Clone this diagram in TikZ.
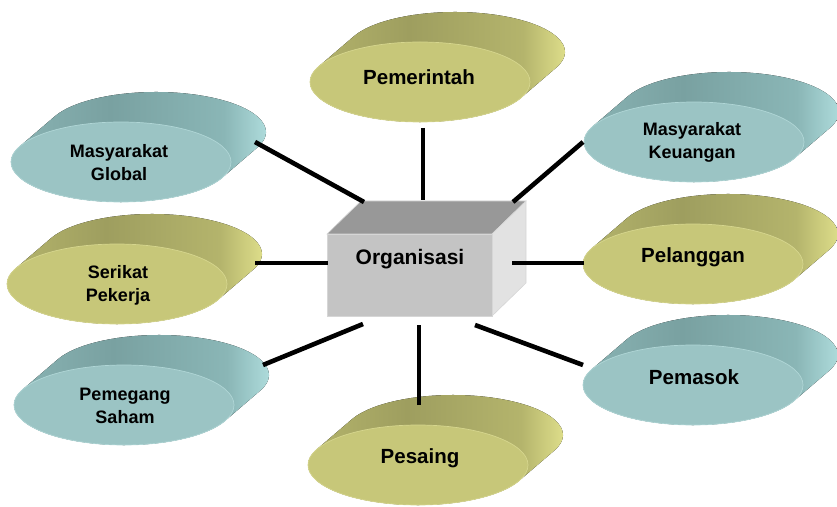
\documentclass[tikz,border=0pt]{standalone}
\usepackage{fontspec}
\setmainfont{Liberation Sans}
\usetikzlibrary{shapes.geometric}

% palettes: olive and teal discs
\definecolor{olFront}{RGB}{199,199,121}
\definecolor{olRim}{RGB}{214,214,142}
\definecolor{olA}{RGB}{184,184,110}
\definecolor{olB}{RGB}{158,158,95}
\definecolor{olC}{RGB}{180,180,108}
\definecolor{olD}{RGB}{236,236,148}
\definecolor{tlFront}{RGB}{155,196,196}
\definecolor{tlRim}{RGB}{176,214,214}
\definecolor{tlA}{RGB}{140,182,182}
\definecolor{tlB}{RGB}{121,161,161}
\definecolor{tlC}{RGB}{138,182,182}
\definecolor{tlD}{RGB}{186,232,232}
\definecolor{boxFront}{RGB}{196,196,196}
\definecolor{boxTop}{RGB}{152,152,152}
\definecolor{boxSide}{RGB}{226,226,226}
\definecolor{boxEdge}{RGB}{214,214,214}

% side shadings: TikZ fits the 25bp--75bp band to the path
\pgfdeclarehorizontalshading{olside}{100bp}{color(0bp)=(olA); color(25bp)=(olA); color(45bp)=(olB); color(65bp)=(olC); color(75bp)=(olD); color(100bp)=(olD)}
\pgfdeclarehorizontalshading{tlside}{100bp}{color(0bp)=(tlA); color(25bp)=(tlA); color(45bp)=(tlB); color(65bp)=(tlC); color(75bp)=(tlD); color(100bp)=(tlD)}

\tikzset{
  link/.style={line width=4.6pt, black},
  bigtext/.style={font=\bfseries\fontsize{20.5}{24}\selectfont, text=black, inner sep=0pt},
  smalltext/.style={font=\bfseries\fontsize{18}{23}\selectfont, text=black, align=center, inner sep=0pt},
}

% #1 node name, #2 x, #3 y (measured from the top), #4 palette (ol/tl)
\newcommand{\extrudeddisc}[4]{%
  \begin{scope}[shift={(#2,{506-#3})}]
    \fill[shading=#4side]
      (157:110 and 40) -- ++(35,30)
      arc[start angle=157, end angle=-23, x radius=110, y radius=40]
      -- ++(-35,-30)
      arc[start angle=-23, end angle=-203, x radius=110, y radius=40]
      -- cycle;
    \node[ellipse, draw=#4Rim, fill=#4Front, line width=0.7pt,
          minimum width=220pt, minimum height=80pt, inner sep=0pt] (#1) at (0,0) {};
  \end{scope}}

\begin{document}
\begin{tikzpicture}[x=1pt,y=1pt]
  \useasboundingbox (0,0) rectangle (837,506);

  % discs
  \extrudeddisc{gov}{420}{82}{ol}
  \extrudeddisc{glob}{121}{162}{tl}
  \extrudeddisc{fin}{694}{142}{tl}
  \extrudeddisc{union}{117}{284}{ol}
  \extrudeddisc{cust}{693}{264}{ol}
  \extrudeddisc{share}{124}{405}{tl}
  \extrudeddisc{supp}{693}{385}{tl}
  \extrudeddisc{comp}{418}{465}{ol}

  \node[bigtext]   (gov-t)   at (419,{506-77})  {Pemerintah};
  \node[smalltext] (glob-t)  at (119,{506-163}) {Masyarakat\\Global};
  \node[smalltext] (fin-t)   at (692,{506-142}) {Masyarakat\\Keuangan};
  \node[smalltext] (union-t) at (118,{506-285}) {Serikat\\Pekerja};
  \node[bigtext]   (cust-t)  at (693,{506-257}) {Pelanggan};
  \node[smalltext] (share-t) at (125,{506-406}) {Pemegang\\Saham};
  \node[bigtext]   (supp-t)  at (694,{506-377}) {Pemasok};
  \node[bigtext]   (comp-t)  at (420,{506-458}) {Pesaing};

  % central box
  \fill[boxTop, draw=boxEdge, line width=0.6pt]
    (327,{506-234}) -- (361,{506-201}) -- (526,{506-201}) -- (492,{506-234}) -- cycle;
  \fill[boxSide, draw=boxEdge, line width=0.6pt]
    (492,{506-234}) -- (526,{506-201}) -- (526,{506-283}) -- (492,{506-316}) -- cycle;
  \node[rectangle, fill=boxFront, draw=boxEdge, line width=0.6pt,
        minimum width=165pt, minimum height=82pt, inner sep=0pt, anchor=north west]
        (org) at (327,{506-234}) {};
  \node[bigtext, font=\bfseries\fontsize{21}{24}\selectfont] (org-t) at (410,{506-259}) {Organisasi};

  % connector ends
  \coordinate (glob-e)  at (255,{506-142});
  \coordinate (org-nw)  at (364,{506-202});
  \coordinate (gov-e)   at (423,{506-128});
  \coordinate (org-n)   at (423,{506-200});
  \coordinate (fin-e)   at (583,{506-142});
  \coordinate (org-ne)  at (513,{506-202});
  \coordinate (union-e) at (255,{506-263});
  \coordinate (org-w)   at (328,{506-263});
  \coordinate (cust-e)  at (584,{506-263});
  \coordinate (org-e)   at (512,{506-263});
  \coordinate (share-e) at (263,{506-365});
  \coordinate (org-sw)  at (363,{506-324});
  \coordinate (comp-e)  at (419,{506-405});
  \coordinate (org-s)   at (419,{506-325});
  \coordinate (supp-e)  at (583,{506-365});
  \coordinate (org-se)  at (475,{506-325});

  \draw[link] (glob-e) -- (org-nw);
  \draw[link] (gov-e) -- (org-n);
  \draw[link] (fin-e) -- (org-ne);
  \draw[link] (union-e) -- (org-w);
  \draw[link] (cust-e) -- (org-e);
  \draw[link] (share-e) -- (org-sw);
  \draw[link] (comp-e) -- (org-s);
  \draw[link] (supp-e) -- (org-se);
\end{tikzpicture}
\end{document}
